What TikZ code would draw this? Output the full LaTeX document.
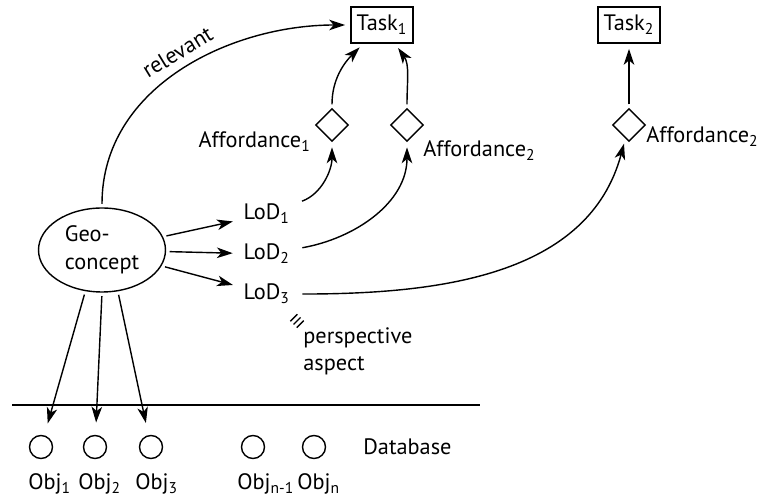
\documentclass[tikz,border=0pt]{standalone}
\usepackage{fontspec}
\setmainfont{PT Sans}
\usetikzlibrary{arrows.meta,shapes.geometric}
\tikzset{
    >={Stealth[length=9pt,width=6pt,inset=2.5pt]},
    gc/.style={
        task/.append style={align=center,draw,thick,rectangle,minimum width=1.24cm,minimum height=0.72cm,inner sep=0pt},
        afford/.append style={draw,thick,diamond,minimum size=0.66cm,inner sep=0pt},
        concept/.append style={align=left,draw,thick,ellipse,minimum width=2.54cm,minimum height=1.68cm,inner sep=0pt},
        level/.append style={anchor=base west,inner sep=3pt},
        obj/.append style={draw,thick,circle,minimum size=0.46cm,inner sep=0pt},
        word/.append style={anchor=base west,inner sep=0pt,align=left},
        every edge/.append style={draw,thick,shorten <=2pt,shorten >=3pt}
    }
}

\begin{document}
\begin{tikzpicture}[gc,x=0.02cm,y=-0.02cm,font=\fontsize{12.7pt}{15.7pt}\selectfont]
    \useasboundingbox (0, 0) rectangle (760, 502);

    \node[task] (task1) at (382, 25) {Task\textsubscript{1}};
    \node[task] (task2) at (629, 25) {Task\textsubscript{2}};

    \node[afford] (a1) at (332, 125) {} edge[->,out=90,in=-135] (task1);
    \node[afford] (a2) at (407, 125) {} edge[->,out=90,in=-55] (task1);
    \node[afford] (a3) at (629, 125) {} edge[->] (task2);
    \node[word,anchor=base east] (a1txt) at (311, 148) {Affordance\textsubscript{1}};
    \node[word] (a2txt) at (423, 157) {Affordance\textsubscript{2}};
    \node[word] (a3txt) at (646, 143) {Affordance\textsubscript{2}};

    \node[level] (lod1) at (238, 220) {LoD\textsubscript{1}} edge[->,out=20,in=-90,shorten <=4pt] (a1);
    \node[level] (lod2) at (238, 260) {LoD\textsubscript{2}} edge[->,out=10,in=-90,shorten <=4pt] (a2);
    \node[level] (lod3) at (238, 300) {LoD\textsubscript{3}} edge[->,out=0,in=-105,shorten <=4pt] (a3);

    \node[concept] (concept) at (102, 250) {Geo-\\concept}
        edge[->] (lod1) edge[->] (lod2) edge[->] (lod3)
        edge[->,out=90,in=180] node[sloped,above=2pt,pos=0.52] {relevant} (task1);

    % perspective marker
    \coordinate (persp) at (297, 321);
    \foreach \k in {-1,0,1}
        \draw[thick] ([shift={({\k*3.2-3.5},{\k*3.2+3.5})}]persp) -- ([shift={({\k*3.2+3.5},{\k*3.2-3.5})}]persp);
    \node[word] (ptxt) at (303, 371) {perspective\\aspect};

    % database
    \coordinate (dbl) at (12, 405);
    \coordinate (dbr) at (480, 405);
    \draw[thick] (dbl) -- (dbr);
    \node[word] (dbtxt) at (363, 455) {Database};

    \node[obj] (obj1) at (41, 447) {};
    \node[obj] (obj2) at (95, 447) {};
    \node[obj] (obj3) at (151, 447) {};
    \node[obj] (objm) at (253, 447) {};
    \node[obj] (objn) at (314, 447) {};
    \node[word] (o1txt) at (28, 490) {Obj\textsubscript{1}};
    \node[word] (o2txt) at (78, 490) {Obj\textsubscript{2}};
    \node[word] (o3txt) at (135, 490) {Obj\textsubscript{3}};
    \node[word] (omtxt) at (237, 490) {Obj\textsubscript{n-1}};
    \node[word] (ontxt) at (297, 490) {Obj\textsubscript{n}};

    \draw (concept.-112) edge[->,shorten >=7pt] (obj1);
    \draw (concept.-90) edge[->,shorten >=7pt] (obj2);
    \draw (concept.-69) edge[->,shorten >=7pt] (obj3);
\end{tikzpicture}
\end{document}
